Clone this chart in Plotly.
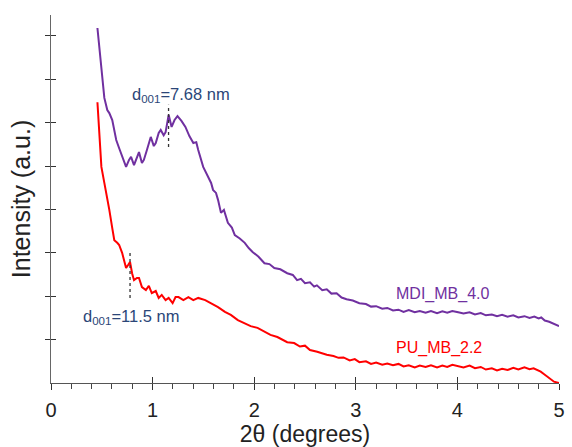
import plotly.graph_objects as go

# MDI_MB_4.0 (purple)
mdi_x = [0.457, 0.486, 0.525, 0.554, 0.574, 0.603, 0.642, 0.671, 0.700, 0.739, 0.768, 0.788, 0.817, 0.846,
         0.866, 0.895, 0.914, 0.944, 0.982, 1.012, 1.031, 1.060, 1.080, 1.109, 1.128, 1.158, 1.187, 1.216,
         1.245, 1.284, 1.323, 1.362, 1.401, 1.430, 1.449, 1.498, 1.527, 1.547, 1.576, 1.595, 1.624, 1.644,
         1.673, 1.702, 1.741, 1.780, 1.809, 1.858, 1.907, 1.946, 1.984, 2.043, 2.101, 2.150, 2.198, 2.257,
         2.325, 2.380, 2.422, 2.460, 2.500, 2.549, 2.590, 2.617, 2.670, 2.714, 2.760, 2.811, 2.860, 2.909,
         2.970, 3.035, 3.100, 3.150, 3.200, 3.260, 3.310, 3.366, 3.420, 3.470, 3.521, 3.580, 3.630, 3.687,
         3.740, 3.800, 3.852, 3.900, 3.950, 4.008, 4.060, 4.120, 4.173, 4.230, 4.280, 4.339, 4.390, 4.440,
         4.494, 4.550, 4.600, 4.660, 4.710, 4.757, 4.800, 4.825, 4.860, 4.903, 4.950, 5.000]
mdi_y = [8.18, 7.44, 6.57, 6.29, 6.22, 6.06, 5.60, 5.41, 5.21, 4.98, 5.14, 5.21, 5.02, 5.18,
         5.32, 5.07, 5.14, 5.37, 5.67, 5.46, 5.53, 5.76, 5.83, 5.71, 5.78, 6.18, 5.90, 6.06,
         6.15, 6.04, 5.90, 5.69, 5.53, 5.55, 5.37, 4.98, 4.84, 4.75, 4.61, 4.45, 4.38, 4.22,
         3.92, 3.99, 3.69, 3.58, 3.41, 3.33, 3.23, 3.11, 3.02, 2.91, 2.76, 2.74, 2.65, 2.62,
         2.53, 2.49, 2.37, 2.40, 2.30, 2.32, 2.22, 2.25, 2.14, 2.16, 2.06, 2.07, 1.97, 1.93,
         1.90, 1.84, 1.82, 1.76, 1.77, 1.71, 1.73, 1.67, 1.69, 1.64, 1.68, 1.63, 1.66, 1.62,
         1.66, 1.61, 1.65, 1.62, 1.66, 1.63, 1.60, 1.63, 1.58, 1.61, 1.56, 1.58, 1.54, 1.57,
         1.53, 1.56, 1.51, 1.54, 1.50, 1.53, 1.49, 1.51, 1.44, 1.41, 1.36, 1.31]

# PU_MB_2.2 (red)
pu_x = [0.457, 0.477, 0.496, 0.525, 0.545, 0.574, 0.603, 0.623, 0.652, 0.671, 0.700, 0.720, 0.739, 0.759,
        0.778, 0.798, 0.817, 0.846, 0.866, 0.895, 0.934, 0.963, 0.992, 1.031, 1.060, 1.090, 1.128, 1.158,
        1.197, 1.226, 1.255, 1.303, 1.352, 1.401, 1.449, 1.518, 1.576, 1.644, 1.712, 1.770, 1.839, 1.907,
        1.965, 2.033, 2.101, 2.160, 2.228, 2.280, 2.325, 2.393, 2.450, 2.500, 2.549, 2.620, 2.670, 2.714,
        2.780, 2.830, 2.879, 2.940, 2.990, 3.035, 3.100, 3.150, 3.200, 3.260, 3.310, 3.366, 3.420, 3.470,
        3.521, 3.580, 3.630, 3.687, 3.740, 3.800, 3.852, 3.900, 3.950, 4.008, 4.060, 4.120, 4.173, 4.230,
        4.280, 4.339, 4.390, 4.440, 4.494, 4.550, 4.600, 4.660, 4.710, 4.750, 4.786, 4.820, 4.854, 4.903,
        4.951, 5.000]
pu_y = [6.47, 5.71, 4.98, 4.61, 4.38, 3.99, 3.57, 3.29, 3.23, 3.18, 3.00, 2.79, 2.65, 2.72,
        2.79, 2.53, 2.37, 2.42, 2.42, 2.21, 2.14, 2.24, 2.07, 2.12, 1.96, 2.03, 1.91, 1.96,
        1.84, 1.98, 1.98, 1.91, 1.98, 1.91, 1.96, 1.91, 1.84, 1.75, 1.64, 1.57, 1.45, 1.38,
        1.31, 1.27, 1.18, 1.11, 1.06, 1.00, 0.94, 0.92, 0.84, 0.86, 0.76, 0.72, 0.68, 0.65,
        0.62, 0.58, 0.59, 0.52, 0.55, 0.48, 0.50, 0.44, 0.47, 0.42, 0.45, 0.41, 0.44, 0.38,
        0.41, 0.36, 0.40, 0.37, 0.41, 0.36, 0.40, 0.37, 0.42, 0.39, 0.36, 0.40, 0.34, 0.37,
        0.31, 0.34, 0.29, 0.33, 0.30, 0.35, 0.31, 0.36, 0.32, 0.34, 0.30, 0.26, 0.20, 0.11,
        0.03, 0.0]

# d001 marker lines
peak_x = [1.157, 0.778]
peak_ylo = [5.44, 1.96]
peak_yhi = [6.41, 3.06]
peak_labels = ["d<sub>001</sub>=7.68 nm", "d<sub>001</sub>=11.5 nm"]
peak_label_x = [1.284, 0.788]
peak_label_y = [6.64, 1.52]

series_names = ["MDI_MB_4.0", "PU_MB_2.2"]
series_colors = ["#7030A0", "#FF0000"]
series_label_x = [3.85, 3.82]
series_label_y = [2.05, 0.81]

x_ticks = [0, 1, 2, 3, 4, 5]
y_ticks = [1, 2, 3, 4, 5, 6, 7, 8]

FONT = "Liberation Sans, Arial, sans-serif"
TXT = "#2B4678"

fig = go.Figure()
fig.add_trace(go.Scatter(x=mdi_x, y=mdi_y, mode="lines", line=dict(color=series_colors[0], width=2),
                         showlegend=False, hoverinfo="skip"))
fig.add_trace(go.Scatter(x=pu_x, y=pu_y, mode="lines", line=dict(color=series_colors[1], width=2),
                         showlegend=False, hoverinfo="skip"))
for px, lo, hi in zip(peak_x, peak_ylo, peak_yhi):
    fig.add_trace(go.Scatter(x=[px, px], y=[lo, hi], mode="lines",
                             line=dict(color="#333333", width=1.3, dash="dot"),
                             showlegend=False, hoverinfo="skip"))
# invisible trace for overlay axes (crossing ticks)
fig.add_trace(go.Scatter(x=[0], y=[0], xaxis="x2", yaxis="y2", mode="markers",
                         marker=dict(opacity=0), showlegend=False, hoverinfo="skip"))

for t, ax_, ay_ in zip(peak_labels, peak_label_x, peak_label_y):
    fig.add_annotation(x=ax_, y=ay_, text=t, showarrow=False,
                       font=dict(family=FONT, size=16.5, color=TXT))
for t, c, ax_, ay_ in zip(series_names, series_colors, series_label_x, series_label_y):
    fig.add_annotation(x=ax_, y=ay_, text=t, showarrow=False,
                       font=dict(family=FONT, size=16, color=c))

yr = [0, 8.48]
fig.update_layout(
    width=572, height=447,
    margin=dict(l=51, r=7, t=15, b=64),
    paper_bgcolor="white", plot_bgcolor="white",
    font=dict(family=FONT, color="#222222"),
    xaxis=dict(range=[0, 5], tickvals=x_ticks, ticks="outside", ticklen=6, tickwidth=1.2,
               tickcolor="#333333", showline=True, linecolor="#555555", linewidth=1.2,
               showgrid=False, zeroline=False, tickfont=dict(size=20, color="#222222"),
               ticklabelstandoff=3,
               minor=dict(dtick=0.2, ticks="outside", ticklen=5, tickcolor="#444444", tickwidth=1),
               title=dict(text="2θ (degrees)", font=dict(size=23, color="#222222"), standoff=3)),
    yaxis=dict(range=yr, tickvals=y_ticks, ticks="outside", ticklen=5, tickwidth=1.2,
               tickcolor="#333333", showticklabels=False, showline=True, linecolor="#666666",
               linewidth=1.2, showgrid=False, zeroline=False,
               title=dict(text="Intensity (a.u.)", font=dict(size=25, color="#222222"), standoff=7)),
    xaxis2=dict(range=[0, 5], overlaying="x", tickvals=x_ticks, ticks="inside", ticklen=6,
                tickwidth=1.2, tickcolor="#333333", showticklabels=False, showgrid=False,
                zeroline=False, showline=False, side="bottom", anchor="y"),
    yaxis2=dict(range=yr, overlaying="y", tickvals=y_ticks, ticks="inside", ticklen=5,
                tickwidth=1.2, tickcolor="#333333", showticklabels=False, showgrid=False,
                zeroline=False, showline=False, side="left", anchor="x"),
)
fig.write_html("out.html")
